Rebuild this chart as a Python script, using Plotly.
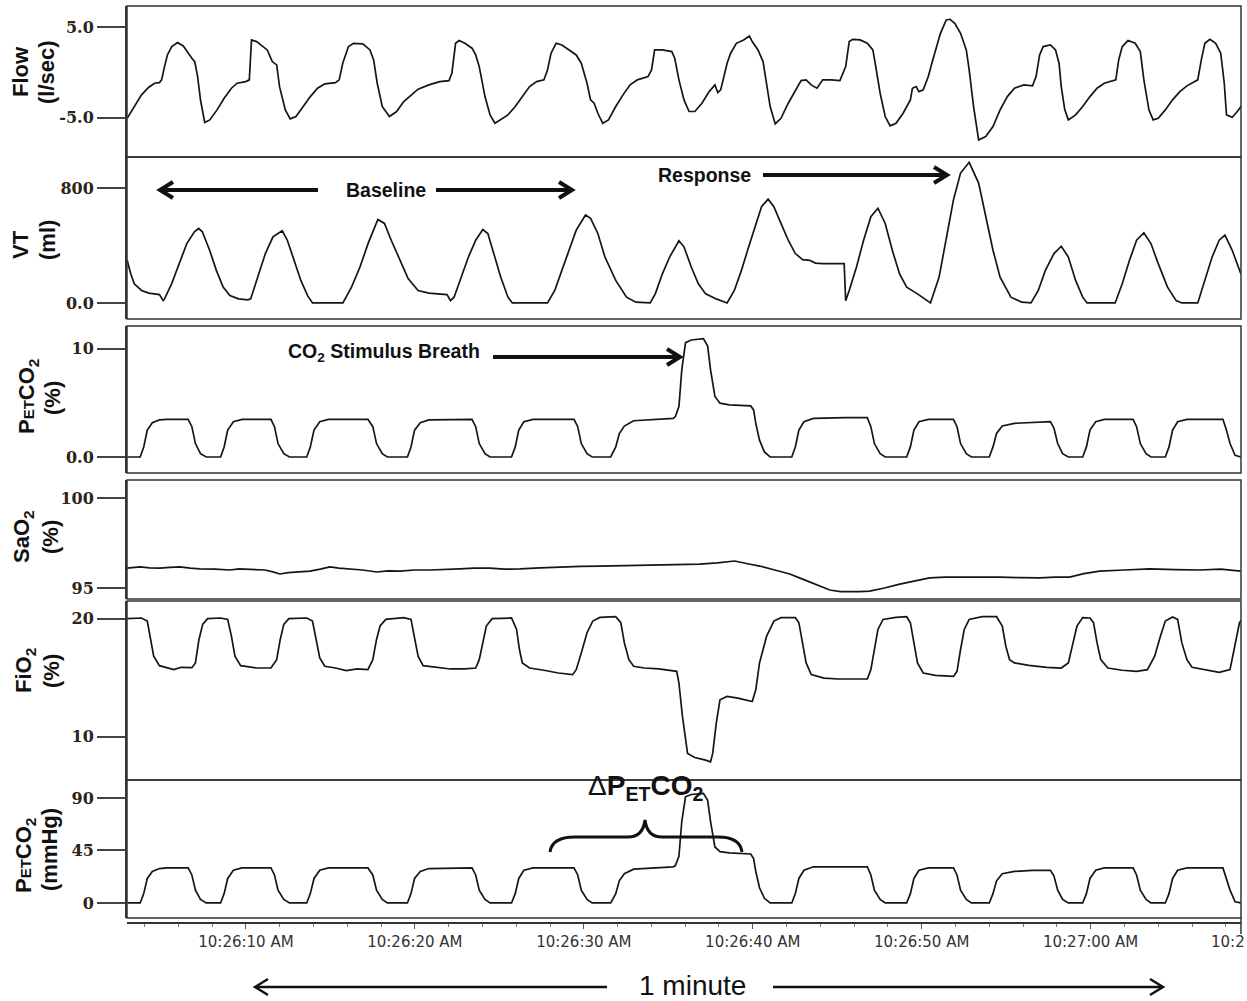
import plotly.graph_objects as go

# ---------------- data (time in s after 10:26:00, values in signal units) ----------------
flow_pts = [(2.97,-5.04),(3.39,-3.75),(3.82,-2.47),(4.25,-1.63),(4.59,-1.19),(4.88,-1.12),(5.01,-0.82),(5.18,0.64),(5.35,1.92),(5.61,2.84),(5.95,3.28),(6.29,2.91),(6.58,2.11),(6.80,1.56),(6.97,1.19),(7.14,-0.46),(7.31,-3.02),(7.56,-5.51),(7.86,-5.22),(8.29,-4.12),(8.71,-2.84),(9.14,-1.74),(9.48,-1.19),(9.99,-1.01),(10.20,-0.82),(10.33,3.57),(10.63,3.39),(10.97,2.84),(11.26,2.47),(11.56,1.19),(11.82,0.82),(11.99,-1.56),(12.33,-4.12),(12.62,-5.11),(12.96,-4.85),(13.39,-3.75),(13.81,-2.66),(14.24,-1.74),(14.67,-1.26),(15.30,-1.12),(15.52,-0.82),(15.73,1.01),(16.07,2.84),(16.37,3.20),(16.92,3.13),(17.34,2.47),(17.56,1.37),(17.77,-1.19),(18.07,-3.75),(18.49,-4.85),(18.92,-4.30),(19.34,-3.21),(19.77,-2.47),(20.19,-1.85),(20.83,-1.37),(21.47,-1.01),(22.02,-0.90),(22.19,-0.09),(22.41,3.20),(22.62,3.50),(22.96,3.20),(23.38,2.66),(23.60,1.92),(23.81,0.64),(24.15,-2.66),(24.45,-4.67),(24.74,-5.59),(25.08,-5.22),(25.51,-4.67),(25.94,-3.75),(26.36,-2.66),(26.79,-1.56),(27.21,-1.01),(27.64,-0.82),(27.85,0.27),(28.06,2.11),(28.36,3.20),(28.70,3.02),(29.13,2.47),(29.55,1.92),(29.85,1.01),(30.19,-1.19),(30.40,-3.02),(30.61,-3.39),(30.83,-4.49),(31.12,-5.59),(31.46,-5.22),(31.89,-3.75),(32.32,-2.47),(32.74,-1.37),(33.17,-0.82),(33.51,-0.64),(33.80,-0.46),(34.01,0.27),(34.19,2.47),(34.65,2.47),(35.21,2.29),(35.38,1.56),(35.63,-0.82),(35.93,-3.02),(36.23,-4.30),(36.57,-4.30),(36.99,-3.39),(37.42,-2.11),(37.76,-1.37),(37.93,-2.22),(38.10,-1.92),(38.27,-0.64),(38.48,1.01),(38.69,2.11),(39.03,3.20),(39.46,3.57),(39.80,4.01),(39.97,3.39),(40.31,2.47),(40.61,1.19),(40.82,-1.56),(41.03,-3.75),(41.33,-5.66),(41.67,-5.04),(42.10,-3.39),(42.52,-1.92),(42.86,-0.90),(43.16,-0.82),(43.46,-1.37),(43.80,-1.74),(44.14,-0.82),(44.65,-0.82),(45.16,-0.90),(45.50,0.64),(45.71,3.39),(45.92,3.64),(46.35,3.57),(46.78,3.20),(47.11,2.47),(47.28,0.64),(47.54,-2.29),(47.84,-4.85),(48.13,-5.88),(48.48,-5.59),(48.90,-4.49),(49.33,-3.02),(49.45,-1.74),(49.67,-1.56),(49.84,-2.11),(50.09,-1.92),(50.39,-0.46),(50.60,1.01),(50.81,2.47),(51.11,4.30),(51.45,5.77),(51.67,5.84),(51.96,5.40),(52.30,4.30),(52.64,2.47),(52.81,0.27),(53.07,-3.75),(53.37,-7.42),(53.79,-7.05),(54.22,-5.95),(54.64,-4.12),(55.07,-2.66),(55.49,-1.74),(56.05,-1.37),(56.56,-1.48),(56.77,-0.46),(56.98,1.92),(57.19,2.84),(57.62,3.02),(57.92,2.47),(58.13,1.01),(58.26,-1.56),(58.47,-4.12),(58.68,-5.22),(59.11,-4.67),(59.53,-3.75),(59.96,-2.66),(60.38,-1.74),(60.81,-1.19),(61.23,-1.01),(61.49,-0.82),(61.66,1.37),(61.87,2.84),(62.21,3.50),(62.64,3.20),(62.94,2.29),(63.15,-0.82),(63.45,-4.12),(63.70,-5.22),(64.00,-5.04),(64.42,-4.12),(64.85,-3.02),(65.28,-2.11),(65.70,-1.48),(66.21,-1.01),(66.34,-0.82),(66.55,1.37),(66.76,3.20),(67.06,3.64),(67.40,3.20),(67.70,2.11),(67.91,-1.19),(68.04,-4.67),(68.38,-4.93),(68.68,-4.30),(68.97,-3.57)]

vt_pts = [(2.97,297),(3.18,203),(3.39,133),(3.82,87),(4.25,68),(4.88,58),(5.10,16),(5.18,28),(5.60,133),(6.05,274),(6.50,414),(6.95,496),(7.20,519),(7.42,496),(7.85,367),(8.25,227),(8.65,110),(9.05,51),(9.56,28),(10.11,21),(10.28,28),(10.70,180),(11.15,344),(11.60,461),(12.15,503),(12.45,437),(12.85,297),(13.25,157),(13.65,51),(13.94,0),(15.74,0),(16.25,110),(16.75,250),(17.25,420),(17.81,582),(18.20,554),(18.60,437),(19.10,297),(19.60,170),(20.19,87),(20.83,68),(21.90,58),(22.11,16),(22.32,40),(22.75,180),(23.17,320),(23.60,437),(24.02,512),(24.32,484),(24.66,344),(25.08,180),(25.51,40),(25.77,0),(27.85,0),(28.28,87),(28.70,227),(29.13,367),(29.55,507),(30.10,613),(30.40,589),(30.83,484),(31.25,320),(31.89,157),(32.53,40),(33.08,5),(33.93,0),(34.23,63),(34.65,203),(35.08,320),(35.63,433),(35.93,391),(36.36,250),(36.78,133),(37.21,63),(37.84,28),(38.48,0),(38.91,87),(39.33,227),(39.76,391),(40.18,554),(40.52,671),(40.91,723),(41.25,671),(41.67,554),(42.10,437),(42.52,344),(42.95,302),(43.37,297),(43.71,278),(44.14,274),(45.41,274),(45.50,16),(45.71,87),(46.14,250),(46.56,437),(46.99,601),(47.41,660),(47.84,554),(48.26,367),(48.69,203),(49.11,110),(49.75,63),(50.52,0),(51.03,180),(51.45,437),(51.88,718),(52.30,905),(52.81,980),(53.37,835),(53.79,601),(54.22,367),(54.64,180),(55.28,40),(55.92,5),(56.47,0),(56.90,87),(57.32,227),(57.83,344),(58.26,395),(58.68,320),(59.11,157),(59.53,40),(59.79,0),(61.45,0),(61.87,133),(62.30,297),(62.72,437),(63.15,489),(63.57,414),(64.00,274),(64.55,110),(65.06,16),(65.40,0),(66.34,0),(66.76,157),(67.19,320),(67.61,437),(67.95,472),(68.38,367),(68.89,203)]

petco2_t = [2.97,3.74,3.95,4.16,4.46,4.88,5.31,6.58,6.80,7.01,7.31,7.65,
            8.50,8.71,8.92,9.26,9.77,11.48,11.69,11.90,12.24,12.58,
            13.60,13.81,14.03,14.37,14.88,17.22,17.51,17.73,18.07,18.37,
            19.56,19.77,19.98,20.32,20.83,23.38,23.60,23.81,24.15,24.45,
            25.72,25.94,26.15,26.45,27.00,29.42,29.64,29.85,30.19,30.49,
            31.59,31.89,32.10,32.40,32.95,34.01,35.29,35.42,35.63,35.80,36.02,36.36,37.08,37.33,37.50,37.76,38.06,38.61,39.88,40.05,40.18,40.40,40.69,41.03,
            42.31,42.52,42.73,43.03,43.59,45.50,46.78,46.99,47.20,47.54,47.84,
            49.11,49.33,49.54,49.84,50.39,51.88,52.09,52.30,52.64,52.94,
            54.00,54.22,54.43,54.77,55.49,56.56,57.62,57.83,58.05,58.34,58.68,
            59.53,59.75,59.96,60.30,60.81,62.51,62.72,62.94,63.28,63.57,
            64.42,64.64,64.85,65.15,65.70,67.83,68.04,68.25,68.55,68.89]
petco2_pct = [0.0,0.0,0.93,2.48,3.17,3.42,3.48,3.48,2.80,1.24,0.31,0.0,
              0.0,0.93,2.48,3.26,3.48,3.48,2.80,1.24,0.31,0.0,
              0.0,0.93,2.48,3.26,3.48,3.48,2.80,1.24,0.31,0.0,
              0.0,0.93,2.48,3.17,3.42,3.48,2.80,1.24,0.31,0.0,
              0.0,0.93,2.48,3.26,3.48,3.48,2.80,1.24,0.31,0.0,
              0.0,0.93,2.17,2.86,3.35,3.48,3.57,3.73,4.66,8.07,10.56,10.81,10.93,10.25,8.07,5.59,4.97,4.81,4.72,4.35,3.11,1.55,0.47,0.0,
              0.0,0.93,2.48,3.26,3.57,3.63,3.63,2.80,1.24,0.31,0.0,
              0.0,0.93,2.48,3.26,3.48,3.48,2.80,1.24,0.31,0.0,
              0.0,0.93,2.17,2.86,3.11,3.20,3.26,2.64,1.24,0.31,0.0,
              0.0,0.93,2.48,3.26,3.48,3.48,2.80,1.24,0.31,0.0,
              0.0,0.93,2.48,3.26,3.48,3.48,2.48,1.24,0.16,0.0]
petco2_mmhg = [0,0,8,21,27,29.5,30,30,24,11,3,0,
               0,8,21,28,30,30,24,11,3,0,
               0,8,21,28,30,30,24,11,3,0,
               0,8,21,27,29.5,30,24,11,3,0,
               0,8,21,28,30,30,24,11,3,0,
               0,8,19,25,29,30,31,32,40,70,91,93,94,88,70,48,44,43,42,38,27,13,4,0,
               0,8,21,28,31,31,31,24,11,3,0,
               0,8,21,28,30,30,24,11,3,0,
               0,8,19,25,27,28,28,23,11,3,0,
               0,8,21,28,30,30,24,11,3,0,
               0,8,21,28,30,30,21,11,1,0]

sao2_pts = [(2.96,96.11),(3.73,96.17),(4.3,96.12),(4.91,96.11),(5.5,96.15),(6.09,96.17),(6.7,96.10),(7.28,96.06),(8.17,96.05),(9.05,96.00),(9.6,96.06),(10.24,96.03),(11.12,96.00),(11.6,95.90),(12.01,95.78),(12.5,95.85),(12.90,95.89),(13.4,95.92),(13.79,95.94),(14.4,96.05),(14.97,96.17),(15.5,96.10),(16.15,96.06),(16.9,96.00),(17.75,95.89),(18.4,95.95),(19.11,95.94),(20.0,96.00),(20.89,96.00),(21.8,96.05),(22.66,96.06),(23.5,96.10),(24.44,96.11),(25.3,96.05),(26.21,96.06),(27.4,96.12),(28.58,96.17),(29.8,96.20),(30.95,96.22),(32.4,96.25),(33.91,96.28),(35.4,96.30),(36.86,96.33),(37.9,96.40),(38.93,96.50),(39.7,96.35),(40.41,96.22),(41.3,96.00),(42.19,95.78),(42.8,95.55),(43.37,95.33),(44.0,95.10),(44.56,94.89),(45.2,94.80),(45.74,94.78),(46.3,94.80),(46.92,94.83),(47.8,95.00),(48.70,95.22),(49.6,95.40),(50.47,95.56),(51.4,95.60),(52.25,95.61),(53.4,95.60),(54.62,95.61),(55.8,95.58),(56.98,95.56),(57.9,95.60),(58.76,95.61),(59.6,95.80),(60.53,95.94),(62.0,96.00),(63.49,96.06),(65.0,96.02),(66.45,96.00),(67.7,96.05),(68.88,95.94)]

fio2_t = [2.97,3.82,4.16,4.33,4.54,4.88,5.31,5.73,6.16,6.80,7.01,7.22,7.44,7.73,
          8.50,8.92,9.14,9.35,9.69,10.20,10.63,11.48,11.82,12.03,12.24,12.54,
          13.60,13.94,14.15,14.37,14.67,15.30,15.94,16.58,17.22,17.51,17.73,17.94,18.28,
          19.34,19.77,19.98,20.19,20.49,21.26,22.11,22.96,23.60,23.81,24.02,24.23,24.57,
          25.72,26.02,26.19,26.36,26.79,27.64,28.49,29.34,29.55,29.85,30.19,30.53,
          30.95,31.89,32.19,32.40,32.67,32.95,33.59,34.44,35.50,35.63,35.84,36.14,36.57,37.21,37.50,37.63,37.84,38.06,38.48,39.12,39.97,40.18,40.40,40.82,41.25,
          41.67,42.52,42.73,42.95,43.16,43.46,44.22,45.07,45.92,46.78,46.99,47.20,47.41,47.71,
          48.48,49.11,49.33,49.54,49.75,50.09,50.81,51.88,52.09,52.30,52.52,52.81,
          53.58,54.43,54.77,54.98,55.20,55.49,56.34,57.41,58.26,58.68,58.90,59.19,59.53,
          59.96,60.17,60.38,60.60,61.02,61.87,62.72,63.36,63.79,64.13,64.42,
          64.85,65.15,65.40,65.70,66.00,66.76,67.61,68.25,68.55,68.81,68.97]
fio2_pct = [20.0,20.06,19.80,18.52,16.82,16.02,15.82,15.68,15.88,15.85,16.25,18.24,19.52,20.0,
            20.06,19.94,18.52,16.82,16.02,15.88,15.82,15.82,16.53,18.24,19.52,20.0,
            20.06,19.80,18.24,16.68,15.97,15.82,15.60,15.74,15.68,16.53,18.24,19.38,19.94,
            20.09,19.94,18.52,16.82,16.02,15.88,15.74,15.74,15.82,16.53,17.95,19.38,20.0,
            20.06,19.09,17.39,16.25,15.82,15.63,15.40,15.26,15.68,17.10,18.81,19.80,
            20.11,20.17,19.66,17.95,16.53,15.97,15.82,15.74,15.54,14.55,11.70,8.58,8.24,8.01,7.87,8.58,11.14,13.13,13.41,13.27,12.98,13.98,16.25,18.52,19.80,
            20.09,20.09,19.66,17.95,16.25,15.26,14.97,14.89,14.91,14.89,15.68,17.39,19.09,19.94,
            20.11,20.17,19.66,17.95,16.25,15.40,15.20,15.11,15.54,17.39,19.09,19.94,
            20.17,20.17,19.38,17.67,16.53,16.25,16.05,15.88,15.82,16.25,17.67,19.38,20.09,
            20.06,19.66,17.95,16.53,15.82,15.63,15.54,15.68,16.82,18.52,19.80,
            20.14,19.94,17.95,16.53,15.88,15.68,15.45,15.68,17.67,19.66,19.94]

x_tick_vals = [10, 20, 30, 40, 50, 60]
x_tick_text = ["10:26:10 AM", "10:26:20 AM", "10:26:30 AM", "10:26:40 AM", "10:26:50 AM", "10:27:00 AM"]

# ---------------- layout geometry ----------------
W, H = 1247, 1001
ML, MR, MT, MB = 127, 6, 6, 78
PW, PH = W - ML - MR, H - MT - MB


def fx(px):
    return (px - ML) / PW


def fy(py):
    return (H - MB - py) / PH


panels = [(6, 157), (157, 319), (326, 473), (480, 599), (601, 780), (780, 918)]

INK = "#151515"
TICKFONT = dict(family="DejaVu Serif", size=16, weight="bold", color="#2e2416")

fig = go.Figure()

series = [
    ([p[0] for p in flow_pts], [p[1] for p in flow_pts], "y"),
    ([p[0] for p in vt_pts], [p[1] for p in vt_pts], "y2"),
    (petco2_t, petco2_pct, "y3"),
    ([p[0] for p in sao2_pts], [p[1] for p in sao2_pts], "y4"),
    (fio2_t, fio2_pct, "y5"),
    (petco2_t, petco2_mmhg, "y6"),
]
for xs, ys, ya in series:
    fig.add_trace(go.Scatter(x=xs, y=ys, mode="lines", xaxis="x", yaxis=ya,
                             line=dict(color=INK, width=1.7), hoverinfo="skip",
                             showlegend=False))

yspecs = [
    ([-9.3, 7.3], [5, -5], ["5.0", "-5.0"]),
    ([-112, 1017], [800, 0], ["800", "0.0"]),
    ([-1.48, 12.1], [10, 0], ["10", "0.0"]),
    ([94.39, 101.0], [100, 95], ["100", "95"]),
    ([6.33, 21.5], [20, 10], ["20", "10"]),
    ([-12.9, 105.4], [90, 45, 0], ["90", "45", "0"]),
]

layout = dict(
    width=W, height=H,
    margin=dict(l=ML, r=MR, t=MT, b=MB),
    paper_bgcolor="white", plot_bgcolor="white",
    showlegend=False,
    xaxis=dict(range=[2.96, 68.9], anchor="free", position=0,
               tickmode="array", tickvals=x_tick_vals, ticktext=x_tick_text,
               ticks="outside", ticklen=5, tickwidth=1, tickcolor="#555",
               showline=True, linecolor="#333", linewidth=1.5,
               showgrid=False, zeroline=False,
               tickfont=dict(family="DejaVu Sans", size=15, color="#333"),
               minor=dict(tickvals=list(range(4, 69, 2)), ticks="outside",
                          ticklen=3, tickcolor="#777", showgrid=False)),
)
for i, ((top, bot), (rng, tv, tt)) in enumerate(zip(panels, yspecs)):
    key = "yaxis" if i == 0 else f"yaxis{i + 1}"
    layout[key] = dict(domain=[fy(bot), fy(top)], range=rng, anchor="x",
                       tickmode="array", tickvals=tv, ticktext=tt,
                       ticks="outside", ticklen=28, tickwidth=1.5, tickcolor="#444",
                       showline=True, linecolor="#333", linewidth=2,
                       showgrid=False, zeroline=False, tickfont=TICKFONT)
fig.update_layout(**layout)

# panel frames
for top, bot in panels:
    fig.add_shape(type="rect", xref="paper", yref="paper", x0=0, x1=1,
                  y0=fy(bot), y1=fy(top), line=dict(color="#333", width=1.5))
# right edge line running down to the tick labels
fig.add_shape(type="line", xref="paper", yref="paper", x0=1, x1=1,
              y0=fy(934), y1=fy(918), line=dict(color="#333", width=1.5))

# axis titles (rotated)
TF = dict(family="Liberation Sans, Arial", size=22, weight="bold", color="#111")
SMALL = "<span style='font-size:15px'>ET</span>"
titles = [
    ("Flow", 21, 72), ("(l/sec)", 47, 72),
    ("VT", 21, 245), ("(ml)", 47, 240),
    ("P" + SMALL + "CO<sub>2</sub>", 28, 397), ("(%)", 52, 398),
    ("SaO<sub>2</sub>", 23, 537), ("(%)", 50, 537),
    ("FiO<sub>2</sub>", 25, 671), ("(%)", 51, 671),
    ("P" + SMALL + "CO<sub>2</sub>", 25, 856), ("(mmHg)", 49, 850),
]
for txt, cx, cy in titles:
    fig.add_annotation(text=txt, x=fx(cx), y=fy(cy), xref="paper", yref="paper",
                       xanchor="center", yanchor="middle", textangle=-90,
                       showarrow=False, font=TF)

# text labels
LF = dict(family="Liberation Sans, Arial", size=19.5, weight="bold", color="#111")
labels = [
    ("Baseline", 386, 190, LF),
    ("Response", 704, 175, LF),
    ("CO<sub>2</sub> Stimulus Breath", 384, 352, LF),
    ("<span style='font-weight:normal'>Δ</span>P<sub>ET</sub>CO<sub>2</sub>", 645, 787,
     dict(family="Liberation Sans, Arial", size=28, weight="bold", color="#111")),
    ("1 minute", 692, 985, dict(family="Liberation Sans, Arial", size=28, color="#111")),
    ("10:2", 1228, 942, dict(family="DejaVu Sans", size=15, color="#333")),
]
for txt, cx, cy, f in labels:
    fig.add_annotation(text=txt, x=fx(cx), y=fy(cy), xref="paper", yref="paper",
                       xanchor="center", yanchor="middle", showarrow=False, font=f)


def P(px, py):
    return f"{fx(px):.5f},{fy(py):.5f}"


# arrows drawn as shapes: (tail x, head x, y, width, head length, head half-height)
arrows = [
    (318, 160, 190, 4, 13, 8), (436, 572, 190, 4, 13, 8),
    (763, 947, 175, 4, 13, 8), (493, 680, 357, 4, 13, 8),
    (607, 255, 987, 2.5, 13, 8), (773, 1163, 987, 2.5, 13, 8),
]
for tx, hx, y, w, hl, hh in arrows:
    d = 1 if hx > tx else -1
    fig.add_shape(type="line", xref="paper", yref="paper",
                  x0=fx(tx), x1=fx(hx - d * 2), y0=fy(y), y1=fy(y),
                  line=dict(color="#111", width=w))
    fig.add_shape(type="path", xref="paper", yref="paper",
                  path=f"M {P(hx - d * hl, y - hh)} L {P(hx, y)} L {P(hx - d * hl, y + hh)}",
                  line=dict(color="#111", width=w))

# curly brace under delta label
brace = (f"M {P(550, 852)} Q {P(552, 837)} {P(575, 837)} L {P(628, 837)} "
         f"Q {P(643, 837)} {P(645, 820)} Q {P(647, 837)} {P(662, 837)} "
         f"L {P(718, 837)} Q {P(740, 837)} {P(742, 852)}")
fig.add_shape(type="path", xref="paper", yref="paper", path=brace,
              line=dict(color="#111", width=3))

fig.write_html("out.html")
